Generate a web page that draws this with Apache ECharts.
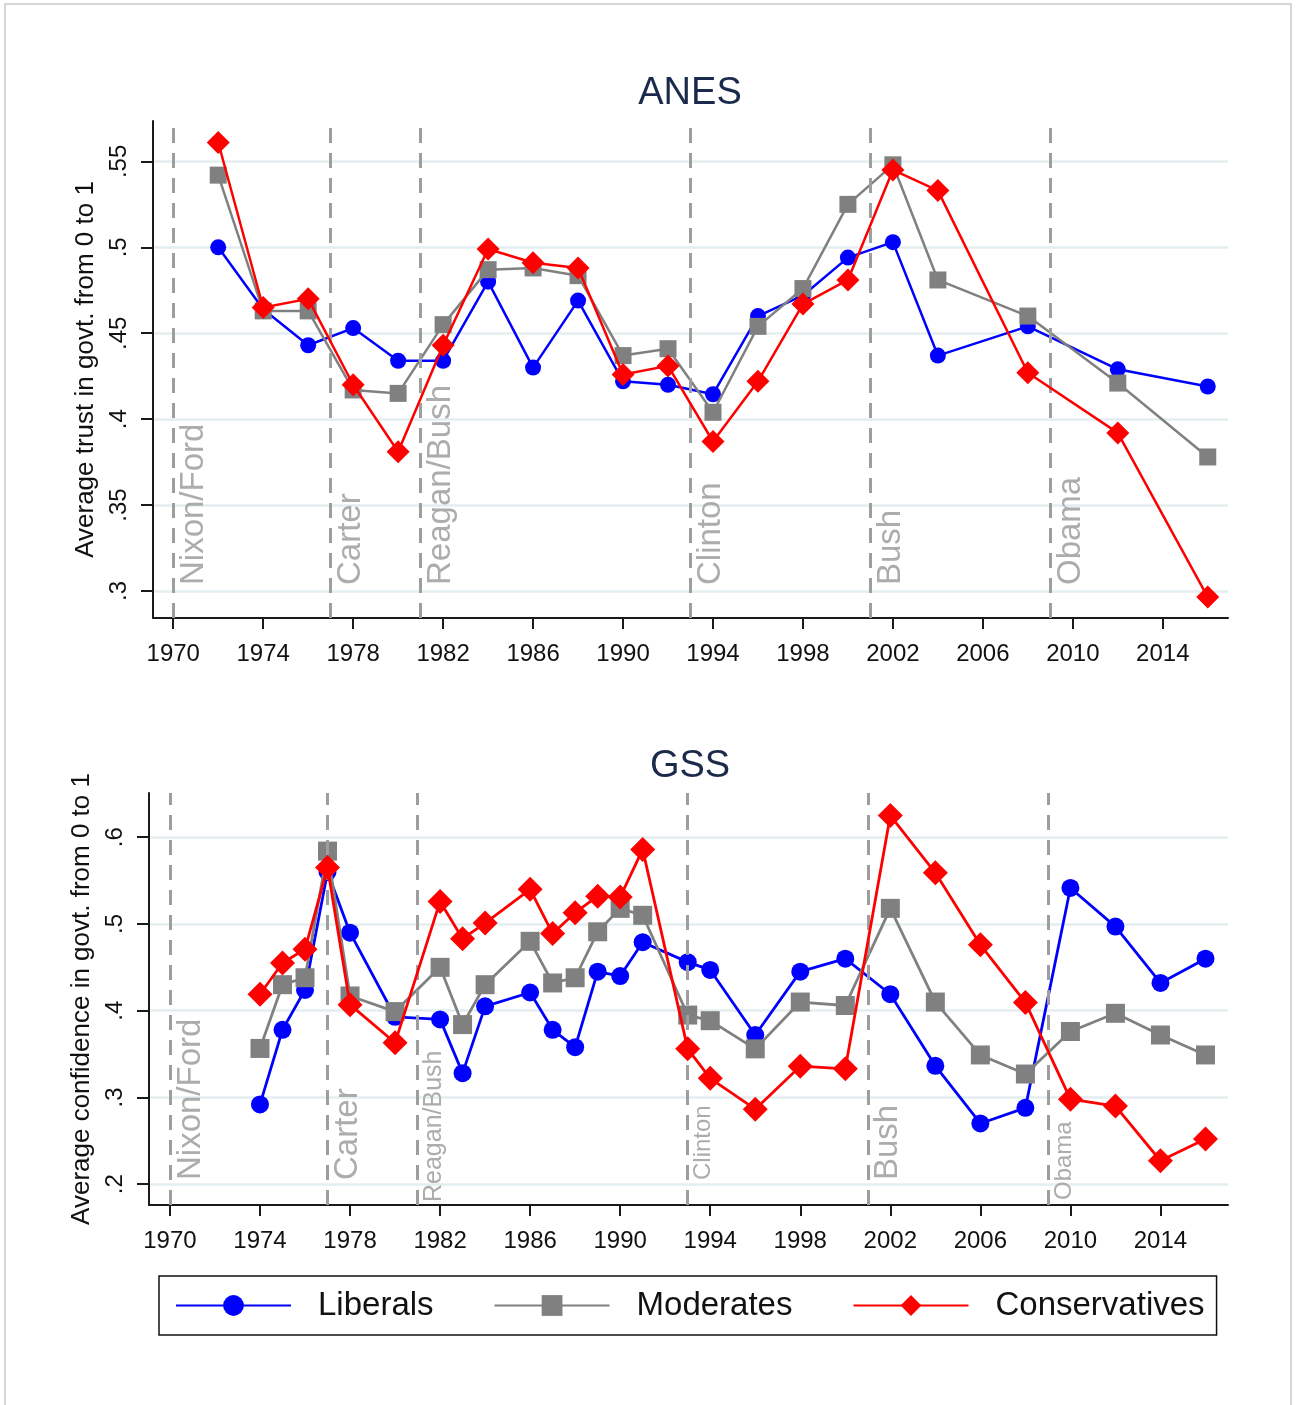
<!DOCTYPE html>
<html>
<head>
<meta charset="utf-8">
<script src="https://cdn.jsdelivr.net/npm/echarts@6/dist/echarts.min.js"></script>
<style>
html,body{margin:0;padding:0;background:#fff;}
#chart{width:1296px;height:1405px;}
</style>
</head>
<body>
<div id="chart"></div>
<script>
// ---------- DATA ----------
const anesYears = [1972,1974,1976,1978,1980,1982,1984,1986,1988,1990,1992,1994,1996,1998,2000,2002,2004,2008,2012,2016];
const anesLiberals      = [.500,.464,.443,.453,.434,.434,.480,.430,.469,.422,.420,.4145,.460,.472,.494,.503,.437,.454,.429,.419];
const anesModerates     = [.542,.463,.463,.417,.415,.455,.487,.488,.4835,.437,.441,.404,.454,.476,.525,.548,.481,.460,.421,.378];
const anesConservatives = [.561,.465,.470,.420,.381,.443,.499,.491,.488,.426,.431,.387,.422,.467,.481,.545,.533,.427,.392,.2965];

const gssYears = [1974,1975,1976,1977,1978,1980,1982,1983,1984,1986,1987,1988,1989,1990,1991,1993,1994,1996,1998,2000,2002,2004,2006,2008,2010,2012,2014,2016];
const gssLiberals      = [.292,.378,.424,.560,.490,.393,.390,.328,.405,.421,.378,.358,.445,.440,.479,.456,.447,.372,.445,.460,.419,.3365,.270,.288,.5415,.497,.432,.460];
const gssModerates     = [.3565,.430,.438,.584,.417,.399,.450,.384,.430,.480,.432,.438,.491,.518,.510,.395,.3885,.356,.410,.406,.518,.410,.349,.327,.376,.397,.372,.349];
const gssConservatives = [.419,.455,.471,.565,.407,.363,.526,.483,.501,.540,.489,.513,.532,.531,.586,.356,.322,.2865,.336,.333,.625,.559,.476,.4096,.298,.290,.227,.252];

const xTicks = [1970,1974,1978,1982,1986,1990,1994,1998,2002,2006,2010,2014];
const anesYTicks = [.3,.35,.4,.45,.5,.55];
const gssYTicks = [.2,.3,.4,.5,.6];

const presidencyStarts = [1970,1977,1981,1993,2001,2009];
const presidencyNames  = ['Nixon/Ford','Carter','Reagan/Bush','Clinton','Bush','Obama'];
const anesLabelSizes   = [33,33,33,33,33,33];
const gssLabelSizes    = [33,33,25,24,33,24];

const seriesNames = ['Liberals','Moderates','Conservatives'];
// ---------------------------

const FONT = "'Liberation Sans', Arial, sans-serif";
const zip = (xs, ys) => xs.map((x,i)=>[x, ys[i]]);
const fmtY = v => { let s = (+v.toFixed(2)).toString(); return s.replace(/^0\./,'.'); };

function xAxisDef(gridIndex, min, max){
  return {
    type:'value', gridIndex, min, max,
    axisLine:{show:true, onZero:false, lineStyle:{color:'#1a1a1a', width:2}},
    axisTick:{show:true, length:11, lineStyle:{color:'#1a1a1a', width:2}, customValues: xTicks},
    axisLabel:{customValues: xTicks, fontSize:24, color:'#111', fontFamily:FONT, margin:24, formatter: v=>String(v)},
    splitLine:{show:false}
  };
}
function yAxisDef(gridIndex, min, max, ticks, name){
  return {
    type:'value', gridIndex, min, max,
    name, nameLocation:'middle', nameGap:52, nameRotate:90,
    nameTextStyle:{fontSize:26, color:'#111', fontFamily:FONT},
    axisLine:{show:true, onZero:false, lineStyle:{color:'#1a1a1a', width:2}},
    axisTick:{show:true, length:12, lineStyle:{color:'#1a1a1a', width:2}, customValues: ticks},
    axisLabel:{customValues: ticks, rotate:90, fontSize:24, color:'#111', fontFamily:FONT, margin:22, formatter: fmtY},
    splitLine:{show:true, lineStyle:{color:'#e4eef0', width:2.5}}
  };
}
function markSeries(xi, yi, sizes, offsets){
  return {
    type:'line', xAxisIndex:xi, yAxisIndex:yi, data:[], silent:true,
    markLine:{
      silent:true, symbol:['none','none'],
      lineStyle:{type:[15,10], color:'#9e9e9e', width:3},
      data: presidencyStarts.map((yr,i)=>({
        xAxis: yr,
        label:{show:true, formatter: presidencyNames[i], position:'insideStartBottom',
               fontSize: sizes[i], color:'#acacac', fontFamily:FONT, distance:[offsets[i], 4]}
      }))
    }
  };
}
const colors = ['#0000ff','#808080','#ff0000'];
const symbols = ['circle','rect','diamond'];
function dataSeries(xi, yi, years, arrs, sizes, lw){
  return arrs.map((arr,i)=>({
    name: seriesNames[i], type:'line', xAxisIndex:xi, yAxisIndex:yi,
    data: zip(years, arr), symbol: symbols[i], symbolSize: sizes[i],
    showAllSymbol:true, z: 3+i,
    lineStyle:{color:colors[i], width:lw}, itemStyle:{color:colors[i]},
    emphasis:{disabled:true}, animation:false
  }));
}

const chart = echarts.init(document.getElementById('chart'), null, {renderer:'canvas'});
chart.setOption({
  animation:false,
  backgroundColor:'#fff',
  title:[
    {text:'ANES', left:685, top:70, textAlign:'center', textStyle:{fontSize:38, fontWeight:'normal', color:'#1b2a4a', fontFamily:FONT}},
    {text:'GSS', left:685, top:743, textAlign:'center', textStyle:{fontSize:38, fontWeight:'normal', color:'#1b2a4a', fontFamily:FONT}}
  ],
  grid:[
    {left:153, right:68, top:121, height:497},
    {left:149, right:68, top:793, height:412}
  ],
  xAxis:[ xAxisDef(0, 1969.1, 2016.9), xAxisDef(1, 1969.07, 2017.0) ],
  yAxis:[
    yAxisDef(0, 0.2843, 0.5735, anesYTicks, 'Average trust in govt. from 0 to 1'),
    yAxisDef(1, 0.176, 0.651, gssYTicks, 'Average confidence in govt. from 0 to 1')
  ],
  legend:{
    data: seriesNames, left:159, top:1276,
    orient:'horizontal',
    borderColor:'#111', borderWidth:1.5, borderRadius:0,
    padding:[13,12,13,16],
    itemWidth:115, itemHeight:26, itemGap:60,
    textStyle:{fontSize:33, color:'#111', fontFamily:FONT, padding:[0,0,0,22]}
  },
  graphic:[
    {type:'rect', shape:{x:5, y:4, width:1286, height:1420}, style:{fill:'none', stroke:'#d6d6d6', lineWidth:2}, silent:true}
  ],
  series: [
    markSeries(0,0, anesLabelSizes, [33,33,33,33,33,33]),
    markSeries(1,1, gssLabelSizes, [25,25,3,25,25,5]),
    ...dataSeries(0,0, anesYears, [anesLiberals, anesModerates, anesConservatives], [16,17,[23,23]], 2.5),
    ...dataSeries(1,1, gssYears, [gssLiberals, gssModerates, gssConservatives], [18,19,[25,25]], 2.8)
  ]
});
</script>
</body>
</html>
